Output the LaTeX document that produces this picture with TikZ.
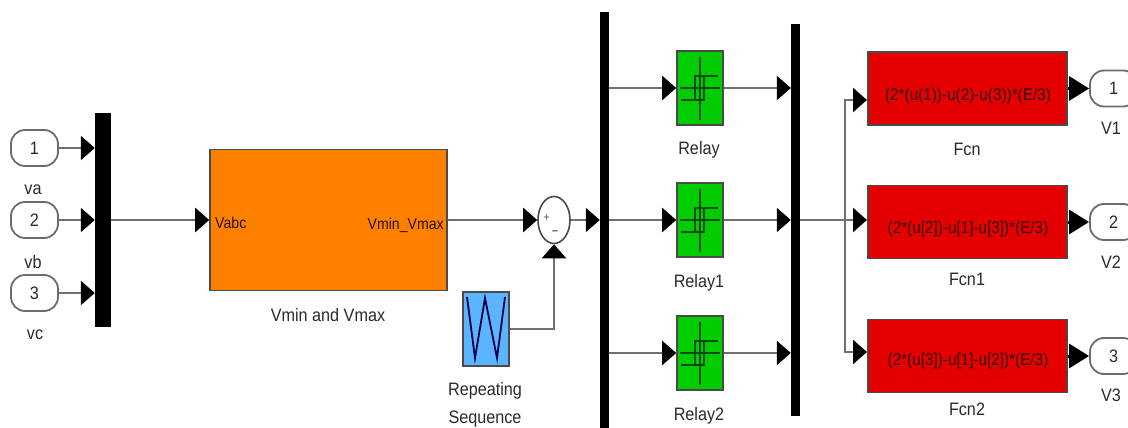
\documentclass[tikz,border=0pt]{standalone}
\usepackage{fontspec}
\setmainfont[FakeStretch=0.9]{Liberation Sans}
\usetikzlibrary{arrows.meta,shapes.geometric}
\definecolor{wirec}{HTML}{707070}
\definecolor{txtc}{HTML}{2A2A2A}
\definecolor{borderc}{HTML}{4A4A4A}
\tikzset{
  wire/.style={draw=wirec,line width=2.2pt},
  arrowed/.style={wire,-{Triangle[length=14pt,width=24pt,color=black]}},
  thickarrow/.style={draw=black,line width=3pt,-{Triangle[length=20pt,width=24pt,color=black]}},
  blockbox/.style={draw=borderc,line width=1.6pt,minimum height=#1,inner sep=0pt,anchor=center},
  bar/.style={fill=black,draw=none,inner sep=0pt,minimum width=#1},
  port/.style={draw=gray!85!black,fill=white,line width=1.8pt,rounded corners=14pt,inner sep=0pt,minimum width=47pt,minimum height=36pt,anchor=center,text=txtc,font=\fontsize{18}{18}\selectfont},
  relaybox/.style={blockbox=74pt,minimum width=46pt,fill=green!80!black},
  fcnbox/.style={blockbox=73pt,minimum width=199pt,fill=red!90!black},
  lab/.style={text=txtc,font=\fontsize{18}{18}\selectfont,inner sep=0pt},
  inlab/.style={text=black!85!orange,font=\fontsize{15.7}{16}\selectfont,inner sep=0pt},
  sign/.style={text=gray!70!black,font=\fontsize{12}{12}\selectfont,inner sep=0pt},
  fcntext/.style={text=black!80!red,font=\fontsize{17}{17}\selectfont,inner sep=0pt},
  icon/.style={draw=black!70!green,line width=2pt}
}
\newcommand{\relayicon}[1]{%
  \draw[icon] ([yshift=31pt]#1.center) -- ([yshift=-32pt]#1.center);
  \draw[icon] ([xshift=-20pt]#1.center) -- ([xshift=20pt]#1.center);
  \draw[icon] ([shift={(18pt,12pt)}]#1.center) -- ([shift={(-5pt,12pt)}]#1.center) -- ([shift={(-5pt,-12pt)}]#1.center) -- ([shift={(-19pt,-12pt)}]#1.center);
  \draw[icon] ([shift={(-5pt,12pt)}]#1.center) -- ([shift={(4pt,12pt)}]#1.center) -- ([shift={(4pt,-12pt)}]#1.center) -- ([shift={(-5pt,-12pt)}]#1.center);
}
\begin{document}
\begin{tikzpicture}[x=1pt,y=-1pt]
\useasboundingbox (0,0) rectangle (1128,428);
\clip (0,0) rectangle (1128,428);
\fill[white] (0,0) rectangle (1128,428);

% inports
\node[port] (in1) at (34.5,148) {\raisebox{-5pt}{1}};
\node[port] (in2) at (34.5,220) {\raisebox{-5pt}{2}};
\node[port] (in3) at (34.5,293) {\raisebox{-5pt}{3}};
\node[lab] (lva) at (33,190) {va};
\node[lab] (lvb) at (33,262) {vb};
\node[lab] (lvc) at (35,335) {vc};

% buses
\node[bar=16pt,minimum height=214pt] (mux) at (103,220) {};
\node[bar=9pt,minimum height=416pt] (bus1) at (604.5,220) {};
\node[bar=9pt,minimum height=392pt] (bus2) at (795.5,220) {};

% orange subsystem
\node[blockbox=141pt,minimum width=237pt,fill={rgb,255:red,255;green,128;blue,0}] (vm) at (328.5,220) {};
\node[inlab,anchor=west] (lvabc) at (215,223) {Vabc};
\node[inlab,anchor=east] (lvmm) at (444,225) {Vmin\_Vmax};
\node[lab] (lvmin) at (328,315) {Vmin and Vmax};

% sum
\node[ellipse,draw=borderc,fill=white,line width=1.6pt,minimum width=32pt,minimum height=47pt,inner sep=0pt] (sum) at (554,220) {};
\node[sign] (plus) at (546.5,218) {+};
\node[sign] (minus) at (555,233) {\textbf{--}};

% repeating sequence
\node[blockbox=74pt,minimum width=46pt,fill={rgb,255:red,90;green,180;blue,255}] (rep) at (486,329) {};
\draw[draw=black!75!blue,line width=1.8pt] (467,297) -- (475,358) -- (485,298) -- (497,358) -- (505,297);
\node[lab] (lrep) at (485,391) {Repeating};
\node[lab] (lseq) at (485,419) {Sequence};

% relays
\node[relaybox] (r1) at (700,88) {};
\node[relaybox] (r2) at (700,220) {};
\node[relaybox] (r3) at (700,353) {};
\relayicon{r1}\relayicon{r2}\relayicon{r3}
\node[lab] (lr1) at (699,150) {Relay};
\node[lab] (lr2) at (699,283) {Relay1};
\node[lab] (lr3) at (699,416) {Relay2};

% functions
\node[fcnbox] (f1) at (967.5,88.5) {};
\node[fcnbox] (f2) at (967.5,222) {};
\node[fcnbox] (f3) at (967.5,356) {};
\node[fcntext] (t1) at (968,96) {(2*(u(1))-u(2)-u(3))*(E/3)};
\node[fcntext] (t2) at (968,229) {(2*(u[2])-u[1]-u[3])*(E/3)};
\node[fcntext] (t3) at (968,361) {(2*(u[3])-u[1]-u[2])*(E/3)};
\node[lab] (lf1) at (967,149) {Fcn};
\node[lab] (lf2) at (967,279) {Fcn1};
\node[lab] (lf3) at (967,409) {Fcn2};

% outports
\node[port] (o1) at (1113.5,88.5) {\raisebox{-5pt}{1}};
\node[port] (o2) at (1113.5,222) {\raisebox{-5pt}{2}};
\node[port] (o3) at (1113.5,356) {\raisebox{-5pt}{3}};
\node[lab] (lv1) at (1111,128) {V1};
\node[lab] (lv2) at (1111,262) {V2};
\node[lab] (lv3) at (1111,395) {V3};

% connectors
\draw[arrowed] (in1.east) -- (in1.east -| mux.west);
\draw[arrowed] (in2.east) -- (in2.east -| mux.west);
\draw[arrowed] (in3.east) -- (in3.east -| mux.west);
\draw[arrowed] (mux.east |- vm.west) -- (vm.west);
\draw[arrowed] (vm.east) -- (sum.west);
\draw[arrowed] (sum.east) -- (sum.east -| bus1.west);
\draw[arrowed] (rep.east) -| (sum.south);
\foreach \r in {r1,r2,r3}{
  \draw[arrowed] (bus1.east |- \r.west) -- (\r.west);
  \draw[arrowed] (\r.east) -- (\r.east -| bus2.west);
}
\coordinate (j) at (845,220);
\coordinate (p1) at (867,100);
\coordinate (p2) at (867,220);
\coordinate (p3) at (867,352);
\draw[wire] (bus2.east |- j) -- (j);
\draw[arrowed] (j) |- (p1);
\draw[arrowed] (j) -- (p2);
\draw[arrowed] (j) |- (p3);
\draw[thickarrow] (f1.east) -- (f1.east -| o1.west);
\draw[thickarrow] (f2.east) -- (f2.east -| o2.west);
\draw[thickarrow] (f3.east) -- (f3.east -| o3.west);
\end{tikzpicture}
\end{document}
